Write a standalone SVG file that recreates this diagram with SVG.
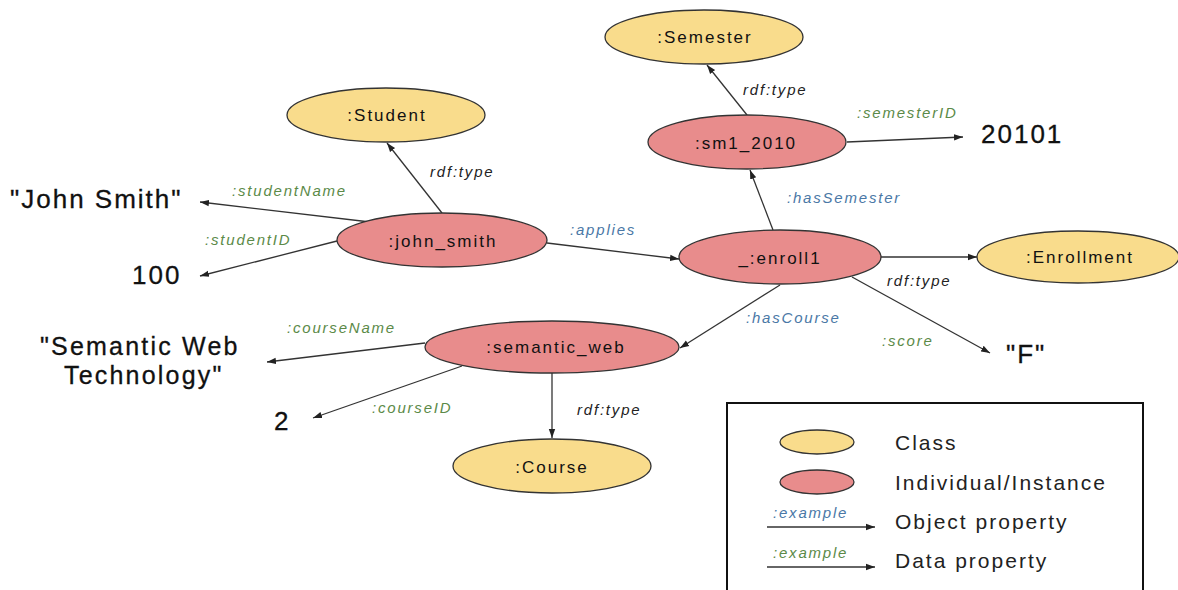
<svg xmlns="http://www.w3.org/2000/svg" width="1178" height="590" viewBox="0 0 1178 590">
<style>
.cls{fill:#f9dc8c;stroke:#333;stroke-width:1.3}
.ind{fill:#e88c8c;stroke:#333;stroke-width:1.3}
.nl{font-family:"Liberation Sans",Arial,sans-serif;font-size:17px;letter-spacing:2px;fill:#111;text-anchor:middle}
.lit{font-family:"Liberation Sans",Arial,sans-serif;font-size:26px;letter-spacing:2px;fill:#111;stroke:#111;stroke-width:0.3}
.lit2{font-size:25px;letter-spacing:2.2px}
.el{font-family:"Liberation Sans",Arial,sans-serif;font-size:15px;font-style:italic;letter-spacing:1.8px}
.dk{fill:#222}
.gr{fill:#5b8a48}
.bl{fill:#4a78a6}
.edge{stroke:#333;stroke-width:1.3;fill:none;marker-end:url(#ah)}
.lg{font-family:"Liberation Sans",Arial,sans-serif;font-size:21px;letter-spacing:2px;fill:#222}
</style>
<defs>
<marker id="ah" markerUnits="userSpaceOnUse" markerWidth="10" markerHeight="8" refX="9" refY="4" orient="auto">
<path d="M0,0.8 L9,4 L0,7.2 Z" fill="#222"/>
</marker>
</defs>
<rect width="1178" height="590" fill="#fff"/>
<g id="connectors">
<line class="edge" x1="442" y1="213" x2="387" y2="143"/>
<line class="edge" x1="370" y1="222" x2="200" y2="202"/>
<line class="edge" x1="337" y1="241" x2="200" y2="276"/>
<line class="edge" x1="547" y1="243" x2="679" y2="259"/>
<line class="edge" x1="747" y1="115" x2="707" y2="65"/>
<line class="edge" x1="847" y1="142" x2="963" y2="137"/>
<line class="edge" x1="773" y1="230" x2="750" y2="170"/>
<line class="edge" x1="881" y1="257" x2="977" y2="257"/>
<line class="edge" x1="780" y1="285" x2="680" y2="348"/>
<line class="edge" x1="852" y1="277" x2="990" y2="353"/>
<line class="edge" x1="425" y1="343" x2="267" y2="362"/>
<line class="edge" x1="462" y1="366" x2="313" y2="418"/>
<line class="edge" x1="552" y1="373" x2="552" y2="438"/>
<text class="el gr" x="232" y="196">:studentName</text>
<text class="el gr" x="205" y="245">:studentID</text>
<text class="el dk" x="430" y="177">rdf:type</text>
<text class="el bl" x="570" y="235">:applies</text>
<text class="el dk" x="743" y="95">rdf:type</text>
<text class="el gr" x="857" y="118">:semesterID</text>
<text class="el bl" x="787" y="203">:hasSemester</text>
<text class="el dk" x="887" y="286">rdf:type</text>
<text class="el bl" x="746" y="323">:hasCourse</text>
<text class="el gr" x="882" y="346">:score</text>
<text class="el gr" x="287" y="333">:courseName</text>
<text class="el gr" x="372" y="413">:courseID</text>
<text class="el dk" x="577" y="415">rdf:type</text>
</g>
<g id="semester"><ellipse class="cls" cx="704" cy="37" rx="99" ry="27"/><text class="nl" x="705" y="43">:Semester</text></g>
<g id="student"><ellipse class="cls" cx="386" cy="115" rx="99" ry="27"/><text class="nl" x="387" y="121">:Student</text></g>
<g id="sm1_2010"><ellipse class="ind" cx="747" cy="142" rx="99" ry="27"/><text class="nl" x="746" y="149">:sm1_2010</text></g>
<g id="john_smith"><ellipse class="ind" cx="442" cy="240" rx="105" ry="27"/><text class="nl" x="443" y="247">:john_smith</text></g>
<g id="enroll1"><ellipse class="ind" cx="780" cy="257" rx="101" ry="27"/><text class="nl" x="780" y="264">_:enroll1</text></g>
<g id="enrollment"><ellipse class="cls" cx="1078" cy="257" rx="101" ry="26"/><text class="nl" x="1080" y="263">:Enrollment</text></g>
<g id="semantic_web"><ellipse class="ind" cx="552" cy="347" rx="127" ry="26"/><text class="nl" x="556" y="353">:semantic_web</text></g>
<g id="course"><ellipse class="cls" cx="552" cy="466" rx="99" ry="27"/><text class="nl" x="552" y="473">:Course</text></g>
<g id="lit_johnsmith"><text class="lit" x="10" y="208">"John Smith"</text></g>
<g id="lit_100"><text class="lit" x="132" y="284">100</text></g>
<g id="lit_20101"><text class="lit" x="981" y="143">20101</text></g>
<g id="lit_F"><text class="lit" x="1006" y="363">"F"</text></g>
<g id="lit_semweb"><text class="lit lit2" x="40" y="355">"Semantic Web</text><text class="lit lit2" x="64" y="384">Technology"</text></g>
<g id="lit_2"><text class="lit" x="274" y="430">2</text></g>
<g id="legend">
<rect x="727" y="403" width="416" height="200" fill="#fff" stroke="#111" stroke-width="2"/>
<ellipse class="cls" cx="817" cy="442" rx="37" ry="12"/>
<ellipse class="ind" cx="817" cy="482" rx="37" ry="12"/>
<text class="lg" x="895" y="450">Class</text>
<text class="lg" x="895" y="490">Individual/Instance</text>
<text class="el bl" x="773" y="518">:example</text>
<line class="edge" x1="767" y1="527" x2="875" y2="527"/>
<text class="lg" x="895" y="529">Object property</text>
<text class="el gr" x="773" y="558">:example</text>
<line class="edge" x1="767" y1="567" x2="875" y2="567"/>
<text class="lg" x="895" y="568">Data property</text>
</g>
</svg>
